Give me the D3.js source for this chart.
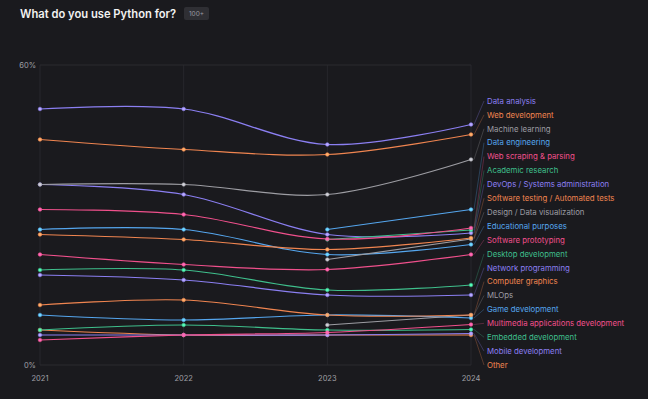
<!DOCTYPE html>
<html>
<head>
<meta charset="utf-8">
<script src="https://cdn.jsdelivr.net/npm/d3@7"></script>
<style>
  html, body { margin: 0; padding: 0; background: #1a1a1e; }
  svg { display: block; font-family: Inter, "Noto Sans", sans-serif; }
</style>
</head>
<body>
<div id="chart"></div>
<script>
// years on the x axis
const years = [2021, 2022, 2023, 2024];

// series, in legend order (share of respondents, %)
const categories = [
  "Data analysis", "Web development", "Machine learning", "Data engineering",
  "Web scraping & parsing", "Academic research", "DevOps / Systems administration",
  "Software testing / Automated tests", "Design / Data visualization", "Educational purposes",
  "Software prototyping", "Desktop development", "Network programming", "Computer graphics",
  "MLOps", "Game development", "Multimedia applications development",
  "Embedded development", "Mobile development", "Other"
];

const dataAnalysis      = [51.2, 51.2, 44.1, 48.1];
const webDevelopment    = [45.1, 43.1, 42.1, 46.1];
const machineLearning   = [36.1, 36.1, 34.1, 41.1];
const dataEngineering   = [null, null, 27.1, 31.1];
const webScraping       = [31.1, 30.1, 25.2, 27.4];
const academicResearch  = [null, null, 25.1, 27.0];
const devOps            = [36.1, 34.1, 26.1, 26.4];
const softwareTesting   = [26.1, 25.1, 23.1, 25.4];
const designDataViz     = [null, null, 21.1, 25.2];
const educational       = [27.1, 27.1, 22.1, 24.1];
const prototyping       = [22.1, 20.1, 19.1, 22.1];
const desktop           = [19.0, 19.0, 15.0, 16.0];
const networkProg       = [18.0, 17.0, 14.0, 14.0];
const computerGraphics  = [12.0, 13.0, 10.0, 10.0];
const mlops             = [null, null, 8.0, 10.0];
const gameDev           = [10.0, 9.0, 10.0, 9.4];
const multimedia        = [5.0, 6.0, 6.5, 8.1];
const embedded          = [7.0, 8.0, 7.0, 7.1];
const mobile            = [6.0, 6.0, 6.0, 6.3];
const other             = [7.0, 6.0, 6.0, 6.0];

const seriesValues = [
  dataAnalysis, webDevelopment, machineLearning, dataEngineering, webScraping,
  academicResearch, devOps, softwareTesting, designDataViz, educational,
  prototyping, desktop, networkProg, computerGraphics, mlops, gameDev,
  multimedia, embedded, mobile, other
];

const yTicks = [0, 60];

// palette cycles in legend order
const palette = ["#8b7ff2", "#f08550", "#9d9da3", "#55a6ee", "#f0508c", "#3fbf8c"];

const width = 648, height = 399;
const x = d3.scalePoint().domain(years).range([40, 471]);
const y = d3.scaleLinear().domain([0, 60]).range([365, 65]);

const svg = d3.select("#chart").append("svg")
  .attr("width", width)
  .attr("height", height);

svg.append("rect").attr("width", width).attr("height", height).attr("fill", "#1a1a1e");

// title + badge
svg.append("text")
  .attr("x", 20).attr("y", 18)
  .attr("fill", "#f2f2f2")
  .attr("font-size", 11.2)
  .attr("font-weight", 600)
  .text("What do you use Python for?");

const badge = svg.append("g").attr("transform", "translate(184,7)");
badge.append("rect").attr("width", 25).attr("height", 13).attr("rx", 2).attr("fill", "#2f2f34");
badge.append("text").attr("x", 12.5).attr("y", 9.3).attr("text-anchor", "middle")
  .attr("fill", "#9a9aa0").attr("font-size", 6.5).text("100+");

// grid
svg.append("g").selectAll("line")
  .data(years)
  .join("line")
  .attr("x1", d => x(d)).attr("x2", d => x(d))
  .attr("y1", y(60)).attr("y2", y(0))
  .attr("stroke", "#27272c").attr("stroke-width", 1);

svg.append("g").selectAll("line")
  .data(yTicks)
  .join("line")
  .attr("x1", x(2021)).attr("x2", x(2024))
  .attr("y1", d => y(d)).attr("y2", d => y(d))
  .attr("stroke", "#2a2a2f").attr("stroke-width", 1);

// y tick labels
svg.append("g").selectAll("text")
  .data(yTicks)
  .join("text")
  .attr("x", 36).attr("y", d => y(d) + 3)
  .attr("text-anchor", "end")
  .attr("fill", "#a0a0a6").attr("font-size", 7.5)
  .text(d => d + "%");

// x tick labels
svg.append("g").selectAll("text")
  .data(years)
  .join("text")
  .attr("x", d => x(d)).attr("y", 381)
  .attr("text-anchor", "middle")
  .attr("fill", "#a0a0a6").attr("font-size", 7.5)
  .text(d => d);

const series = categories.map((name, i) => ({
  name,
  color: palette[i % palette.length],
  values: years.map((yr, j) => ({ year: yr, value: seriesValues[i][j] }))
}));

const line = d3.line()
  .defined(d => d.value != null)
  .x(d => x(d.year))
  .y(d => y(d.value))
  .curve(d3.curveCatmullRom.alpha(0.5));

// draw from bottom of legend up so the top ones sit above
const drawOrder = series.slice().reverse();

svg.append("g").selectAll("path")
  .data(drawOrder)
  .join("path")
  .attr("fill", "none")
  .attr("stroke", d => d.color)
  .attr("stroke-width", 1.2)
  .attr("d", d => line(d.values));

svg.append("g").selectAll("g")
  .data(drawOrder)
  .join("g")
  .selectAll("circle")
  .data(d => d.values.filter(v => v.value != null).map(v => ({ ...v, color: d.color })))
  .join("circle")
  .attr("cx", d => x(d.year))
  .attr("cy", d => y(d.value))
  .attr("r", 1.8)
  .attr("fill", d => d3.color(d.color).brighter(0.8))
  .attr("stroke", d => d.color)
  .attr("stroke-width", 0.6);

// legend labels with leader lines
const labelY = d3.scaleLinear().domain([0, categories.length - 1]).range([101, 365]);
const lastYear = years[years.length - 1];

svg.append("g").selectAll("line")
  .data(series)
  .join("line")
  .attr("x1", x(lastYear) + 3)
  .attr("y1", d => y(d.values[d.values.length - 1].value))
  .attr("x2", 484)
  .attr("y2", (d, i) => labelY(i))
  .attr("stroke", d => d.color)
  .attr("stroke-opacity", 0.4)
  .attr("stroke-width", 0.7);

svg.append("g").selectAll("text")
  .data(series)
  .join("text")
  .attr("x", 487)
  .attr("y", (d, i) => labelY(i) + 2.8)
  .attr("fill", d => d.color)
  .attr("font-size", 7.8)
  .text(d => d.name);
</script>
</body>
</html>
